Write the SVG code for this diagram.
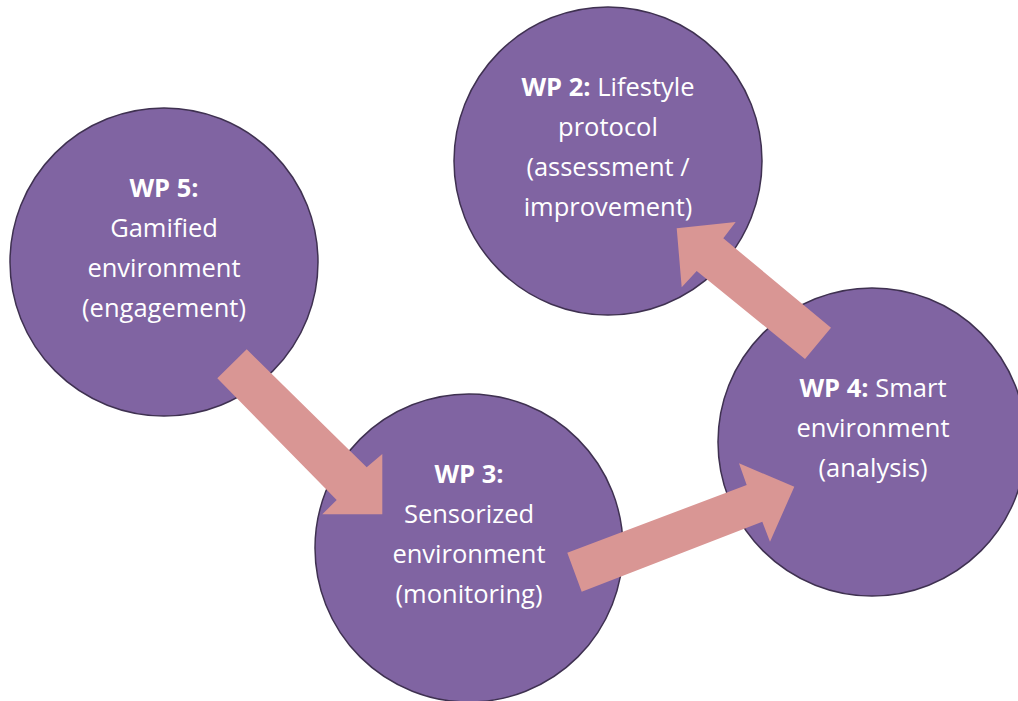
<svg xmlns="http://www.w3.org/2000/svg" width="1018" height="701" viewBox="0 0 1018 701">
<style>
.node{fill:#8064A2;stroke:#3F3151;stroke-width:1.5}
.t{font-family:"Open Sans","Liberation Sans",sans-serif;font-size:25.5px;fill:#FFFFFF;text-anchor:middle}
.b{font-weight:bold}
.arrow{fill:#D99694;stroke:none}
</style>
<rect width="1018" height="701" fill="#FFFFFF"/>
<g id="wp5">
<circle class="node" cx="164" cy="262" r="154"/>
<text class="t" x="164" y="197"><tspan class="b">WP 5:</tspan></text>
<text class="t" x="164" y="237">Gamified</text>
<text class="t" x="164" y="277">environment</text>
<text class="t" x="164" y="317">(engagement)</text>
</g>
<g id="wp2">
<circle class="node" cx="608" cy="161" r="154"/>
<text class="t" x="608" y="96"><tspan class="b">WP 2:</tspan> Lifestyle</text>
<text class="t" x="608" y="136">protocol</text>
<text class="t" x="608" y="176">(assessment /</text>
<text class="t" x="608" y="216">improvement)</text>
</g>
<g id="wp3">
<circle class="node" cx="469" cy="548" r="154"/>
<text class="t" x="469" y="483"><tspan class="b">WP 3:</tspan></text>
<text class="t" x="469" y="523">Sensorized</text>
<text class="t" x="469" y="563">environment</text>
<text class="t" x="469" y="603">(monitoring)</text>
</g>
<g id="wp4">
<circle class="node" cx="872" cy="442" r="154"/>
<text class="t" x="873" y="397"><tspan class="b">WP 4:</tspan> Smart</text>
<text class="t" x="873" y="437">environment</text>
<text class="t" x="873" y="477">(analysis)</text>
</g>
<g id="connectors">
<polygon class="arrow" points="246.7,349.3 366.7,467.3 382.3,454 382.3,514.3 322.3,514.3 336.7,500 217.3,378.3"/>
<polygon class="arrow" points="567.3,552.7 746.7,485 739,463.3 794.3,486.7 770,541.7 762.3,521.7 581.7,591.7"/>
<polygon class="arrow" points="831,327.7 723.3,238.3 735.7,222 676.7,228.3 681.7,287.3 696.7,271 805,359"/>
</g>
</svg>
